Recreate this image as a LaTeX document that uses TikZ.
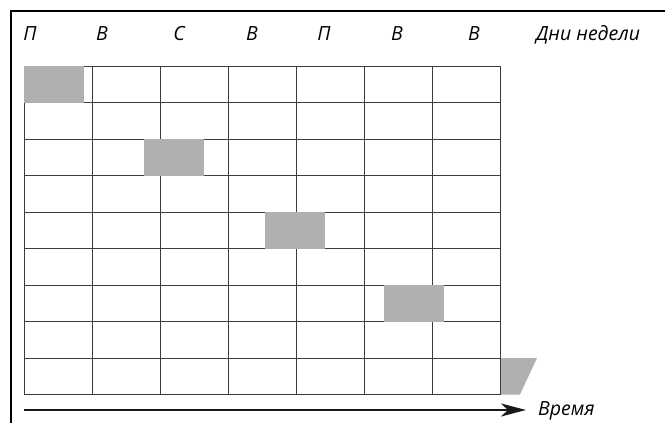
\documentclass[tikz,border=0pt]{standalone}
\usepackage{fontspec}
\setmainfont{Open Sans}
\usetikzlibrary{arrows.meta}
\definecolor{boxgray}{RGB}{177,175,176}
\definecolor{gridgray}{RGB}{60,60,60}
\tikzset{
  lbl/.style={font=\itshape\fontsize{19.5}{21}\selectfont, inner sep=0pt, anchor=base},
  gridline/.style={draw=gridgray, line width=1pt},
  framel/.style={draw=black, line width=2pt},
  busy/.style={fill=boxgray, draw=none},
  timearrow/.style={draw=black!90, line width=2.2pt, -{Stealth[length=25pt,width=13pt,inset=7pt]}}
}
\begin{document}
\begin{tikzpicture}[x=1pt,y=-1pt]
\useasboundingbox (0,0) rectangle (665,423);
% frame
\draw[framel] (11,423) -- (11,10.5) -- (665,10.5);
% grid
\foreach \i in {0,...,9} \draw[gridline] (24,{66+36.5*\i}) -- (500,{66+36.5*\i});
\foreach \j in {0,...,7} \draw[gridline] ({24+68*\j},66) -- ({24+68*\j},394.5);
% busy slots
\fill[busy] (24,66) rectangle (84,102.5);
\fill[busy] (144,139) rectangle (204,175.5);
\fill[busy] (265,212) rectangle (325,248.5);
\fill[busy] (384,285) rectangle (444,321.5);
\fill[busy] (501,358) -- (537,358) -- (520,394.5) -- (501,394.5) -- cycle;
% day labels
\node[lbl] (d1) at (30,41) {П};
\node[lbl] (d2) at (102,41) {В};
\node[lbl] (d3) at (179,41) {С};
\node[lbl] (d4) at (252,41) {В};
\node[lbl] (d5) at (324,41) {П};
\node[lbl] (d6) at (397,41) {В};
\node[lbl] (d7) at (474,41) {В};
\node[lbl, anchor=base west] (days) at (536,41) {Дни недели};
% time arrow
\coordinate (t0) at (24,410);
\coordinate (t1) at (526,410);
\draw[timearrow] (t0) -- (t1);
\node[lbl, anchor=base west] (time) at (538,415.5) {Время};
\end{tikzpicture}
\end{document}
